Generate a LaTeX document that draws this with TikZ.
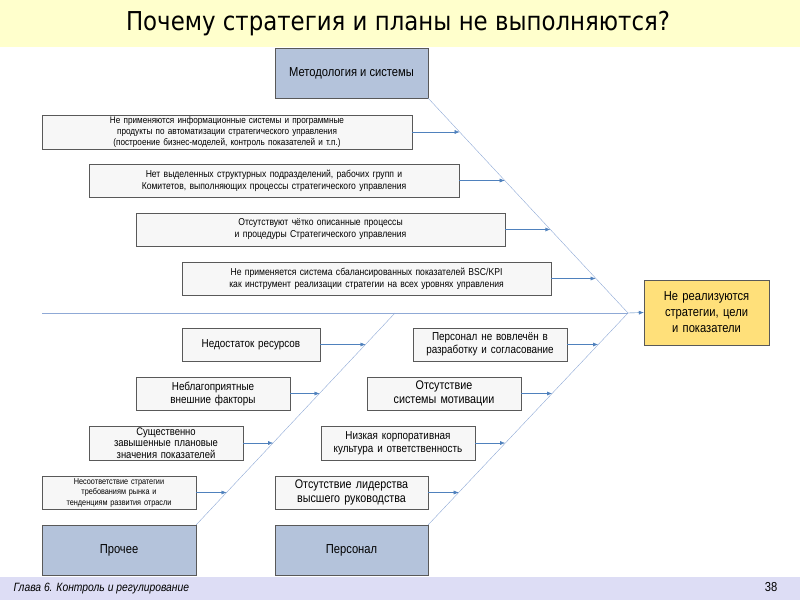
\documentclass[tikz,border=0pt]{standalone}
\usepackage{fontspec}
\setmainfont{Liberation Sans}[FakeStretch=0.86]
\newfontfamily\titlefont{DejaVu Sans}[FakeStretch=0.88]
\usetikzlibrary{arrows.meta,calc}
\definecolor{catfill}{HTML}{B4C3DB}
\definecolor{goalfill}{HTML}{FFE07A}
\definecolor{titleband}{HTML}{FFFFCC}
\definecolor{footband}{HTML}{DDDDF5}
\definecolor{bone}{HTML}{8FA9D6}
\definecolor{tipblue}{HTML}{4F81BD}
\tikzset{
  cause/.style = {draw=gray!70!black, fill=gray!6, align=center, inner sep=1pt, font=\fontsize{11.5}{13}\selectfont},
  small cause/.style = {cause, font=\fontsize{9.5}{11}\selectfont},
  category/.style = {draw=gray!70!black, fill=catfill, align=center, font=\fontsize{13}{15}\selectfont},
  goal/.style = {draw=gray!70!black, fill=goalfill, align=center, font=\fontsize{13}{16}\selectfont},
  bonearrow/.style = {bone, -{Latex[length=5pt,width=4pt]}, tipblue},
  boneline/.style = {bone, thin},
}
\begin{document}
\begin{tikzpicture}[x=1pt,y=-1pt]
  \useasboundingbox (0,0) rectangle (800,600);
  % bands
  \fill[titleband] (0,0) rectangle (800,47);
  \fill[footband] (0,577) rectangle (800,600);
  \node[font=\titlefont\fontsize{26}{28}\selectfont] (title) at (398,24) {Почему стратегия и планы не выполняются?};
  \node[font=\itshape\fontsize{12}{14}\selectfont, anchor=west] (chapter) at (10,589) {Глава 6. Контроль и регулирование};
  \node[font=\fontsize{13}{15}\selectfont] (page) at (771,587) {38};

  % categories and goal
  \node[category, minimum width=153pt, minimum height=50pt] (method) at (351.5,73) {Методология и системы};
  \node[category, minimum width=154pt, minimum height=50pt] (other) at (119,550) {Прочее};
  \node[category, minimum width=153pt, minimum height=50pt] (staff) at (351.5,550) {Персонал};
  \node[goal, minimum width=125pt, minimum height=65pt, text width=100pt] (target) at (706.5,312.5) {Не реализуются стратегии, цели и показатели};

  % spine
  \coordinate (tail) at (42,313);
  \coordinate (head) at (628,313);
  \coordinate (mid) at (395,313);
  \draw[boneline] (tail) -- (head);
  \draw[bonearrow] (head) -- (target.west);
  \draw[boneline] (method.south east) -- (head);
  \draw[boneline] (other.north east) -- (mid);
  \draw[boneline] (staff.north east) -- (head);

  % methodology causes
  \node[small cause, minimum width=370pt, minimum height=34pt, text width=330pt] (m1) at (227,132) {Не применяются информационные системы и программные продукты по автоматизации стратегического управления (построение бизнес-моделей, контроль показателей и т.п.)};
  \node[small cause, font=\fontsize{10}{12}\selectfont, minimum width=370pt, minimum height=33pt, text width=350pt] (m2) at (274,180.5) {Нет выделенных структурных подразделений, рабочих групп и Комитетов, выполняющих процессы стратегического управления};
  \node[small cause, font=\fontsize{10}{12}\selectfont, minimum width=369pt, minimum height=33pt, text width=330pt] (m3) at (320.5,229.5) {Отсутствуют чётко описанные процессы и процедуры Стратегического управления};
  \node[small cause, font=\fontsize{10}{12}\selectfont, minimum width=369pt, minimum height=33pt, text width=350pt] (m4) at (366.5,278.5) {Не применяется система сбалансированных показателей BSC/KPI как инструмент реализации стратегии на всех уровнях управления};
  \coordinate (m1t) at (459.6,132);
  \coordinate (m2t) at (504.7,180.5);
  \coordinate (m3t) at (550.3,229.5);
  \coordinate (m4t) at (595.6,278.5);
  \foreach \c in {m1,m2,m3,m4}
    \draw[bonearrow] (\c.east) -- (\c t);

  % other causes
  \node[cause, minimum width=138pt, minimum height=33pt, text width=134pt] (o1) at (251,344.5) {Недостаток ресурсов};
  \node[cause, minimum width=154pt, minimum height=33pt, text width=134pt] (o2) at (213,393.5) {Неблагоприятные внешние факторы};
  \node[cause, font=\fontsize{11}{11.5}\selectfont, minimum width=154pt, minimum height=34pt, text width=120pt] (o3) at (166,443) {Существенно завышенные плановые значения показателей};
  \node[small cause, font=\fontsize{8.5}{10.5}\selectfont, minimum width=154pt, minimum height=33pt, text width=125pt] (o4) at (119,492.5) {Несоответствие стратегии требованиям рынка и тенденциям развития отрасли};
  \coordinate (o1t) at (365.5,344.5);
  \coordinate (o2t) at (319.5,393.5);
  \coordinate (o3t) at (273,443);
  \coordinate (o4t) at (226.5,492.5);
  \foreach \c in {o1,o2,o3,o4}
    \draw[bonearrow] (\c.east) -- (\c t);

  % staff causes
  \node[cause, minimum width=154pt, minimum height=33pt, text width=140pt] (s1) at (490,344.5) {Персонал не вовлечён в разработку и согласование};
  \node[cause, font=\fontsize{12.5}{14}\selectfont, minimum width=154pt, minimum height=33pt, text width=140pt] (s2) at (444,393.5) {Отсутствие системы мотивации};
  \node[cause, minimum width=154pt, minimum height=34pt, text width=140pt] (s3) at (398,443) {Низкая корпоративная культура и ответственность};
  \node[cause, font=\fontsize{12.5}{14}\selectfont, minimum width=153pt, minimum height=33pt, text width=130pt] (s4) at (351.5,492.5) {Отсутствие лидерства высшего руководства};
  \coordinate (s1t) at (598,344.5);
  \coordinate (s2t) at (552,393.5);
  \coordinate (s3t) at (505,443);
  \coordinate (s4t) at (458.7,492.5);
  \foreach \c in {s1,s2,s3,s4}
    \draw[bonearrow] (\c.east) -- (\c t);
\end{tikzpicture}
\end{document}
